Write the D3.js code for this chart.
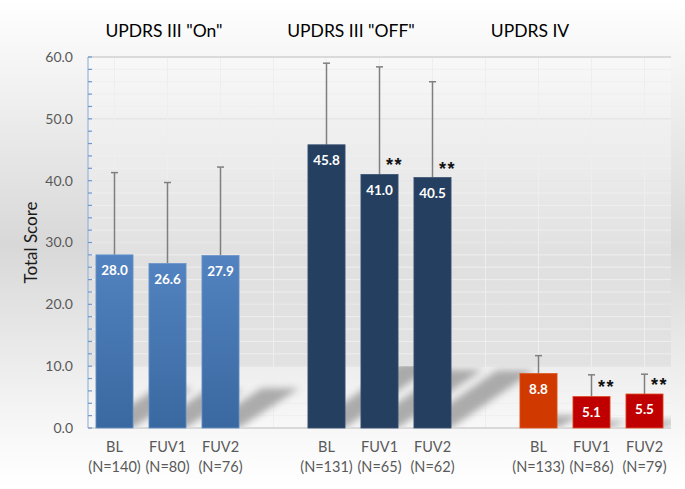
<!DOCTYPE html>
<html lang="en">
<head>
    <meta charset="UTF-8">
    <script src="https://d3js.org/d3.v7.min.js"></script>
    <title>UPDRS scores</title>
    <style>
        body { margin: 0; }
        text { font-family: Lato, "Open Sans", sans-serif; }
    </style>
</head>
<body>
<script>
    // Data
    const groups = ['UPDRS III "On"', 'UPDRS III "OFF"', 'UPDRS IV'];
    const visits = ["BL", "FUV1", "FUV2"];
    const nCounts = [[140, 80, 76], [131, 65, 62], [133, 86, 79]];
    const means = [[28.0, 26.6, 27.9], [45.8, 41.0, 40.5], [8.8, 5.1, 5.5]];
    const sds = [[13.3, 13.1, 14.3], [13.2, 17.4, 15.5], [2.9, 3.5, 3.2]];
    const signif = [["", "", ""], ["", "**", "**"], ["", "**", "**"]];
    const yTicks = [0, 10, 20, 30, 40, 50, 60];
    const yMinor = d3.range(0, 61, 2);

    const W = 685, H = 489;
    const plot = {left: 88, right: 671, top: 57, bottom: 428};
    const titleX = [164, 351, 530];

    // rows: one per bar, with gap slots between the groups
    const rows = [];
    const slots = [];
    groups.forEach((g, gi) => {
        visits.forEach((v, vi) => {
            const key = gi + "-" + vi;
            slots.push(key);
            rows.push({key, gi, vi, visit: v, n: nCounts[gi][vi], mean: means[gi][vi],
                sd: sds[gi][vi], sig: signif[gi][vi]});
        });
        if (gi < groups.length - 1) slots.push("gap" + gi);
    });

    const svg = d3.select("body").append("svg")
        .attr("width", W)
        .attr("height", H);

    const defs = svg.append("defs");
    const bgGrad = defs.append("linearGradient").attr("id", "bg")
        .attr("x1", 0).attr("y1", 0).attr("x2", 0).attr("y2", 1);
    [[0, "#ffffff"], [0.5, "#d8d8d8"], [0.9, "#f9f9f9"], [1, "#ffffff"]]
        .forEach(s => bgGrad.append("stop").attr("offset", s[0]).attr("stop-color", s[1]));

    const x = d3.scaleBand()
        .domain(slots)
        .range([plot.left, plot.right])
        .paddingInner(0.3)
        .paddingOuter(0.15);
    const y = d3.scaleLinear()
        .domain([0, 60])
        .range([plot.bottom, plot.top]);
    const cx = k => x(k) + x.bandwidth() / 2;

    const floorY = y(10);
    const floorOff = (floorY - plot.top) / (plot.bottom - plot.top);
    const plotGrad = defs.append("linearGradient").attr("id", "plotbg")
        .attr("x1", 0).attr("y1", 0).attr("x2", 0).attr("y2", 1);
    [[0, "#f8f8f8"], [0.55, "#e0e0e0"], [floorOff, "#e2e2e2"], [floorOff + 0.002, "#eeeeee"], [1, "#f8f8f8"]]
        .forEach(s => plotGrad.append("stop").attr("offset", s[0]).attr("stop-color", s[1]));

    const blueGrad = defs.append("linearGradient").attr("id", "blue")
        .attr("x1", 0).attr("y1", 0).attr("x2", 0).attr("y2", 1);
    blueGrad.append("stop").attr("offset", 0).attr("stop-color", "#5283c0");
    blueGrad.append("stop").attr("offset", 1).attr("stop-color", "#3a68a0");

    defs.append("filter").attr("id", "blur")
        .attr("x", "-50%").attr("y", "-50%").attr("width", "200%").attr("height", "200%")
        .append("feGaussianBlur").attr("stdDeviation", 3.5);
    defs.append("clipPath").attr("id", "floor")
        .append("rect")
        .attr("x", plot.left).attr("y", floorY)
        .attr("width", plot.right - plot.left).attr("height", plot.bottom - floorY);

    // Background
    svg.append("rect").attr("width", W).attr("height", H).attr("fill", "url(#bg)");
    svg.append("rect")
        .attr("x", plot.left).attr("y", plot.top)
        .attr("width", plot.right - plot.left).attr("height", plot.bottom - plot.top)
        .attr("fill", "url(#plotbg)");

    // Grid
    svg.append("g").selectAll("line")
        .data(yMinor.filter(d => d > 0 && d % 10 !== 0))
        .enter().append("line")
        .attr("x1", plot.left).attr("x2", plot.right)
        .attr("y1", d => y(d)).attr("y2", d => y(d))
        .attr("stroke", "#efefef").attr("stroke-width", 1);
    svg.append("g").selectAll("line")
        .data(yTicks.filter(d => d > 0 && d < 60))
        .enter().append("line")
        .attr("x1", plot.left).attr("x2", plot.right)
        .attr("y1", d => y(d)).attr("y2", d => y(d))
        .attr("stroke", "#e6e6e6").attr("stroke-width", 1.5);
    svg.append("g").selectAll("line")
        .data(slots)
        .enter().append("line")
        .attr("x1", d => cx(d)).attr("x2", d => cx(d))
        .attr("y1", plot.top).attr("y2", plot.bottom)
        .attr("stroke", "#eeeeee").attr("stroke-width", 1);
    svg.append("line")
        .attr("x1", plot.left).attr("x2", plot.right)
        .attr("y1", y(60)).attr("y2", y(60))
        .attr("stroke", "#dadada").attr("stroke-width", 2);

    // Floor shadows
    svg.append("g")
        .attr("clip-path", "url(#floor)")
        .selectAll("path")
        .data(rows)
        .enter().append("path")
        .attr("d", d => {
            const x0 = x(d.key), x1 = x0 + x.bandwidth(), b = y(0);
            const h = y(0) - y(d.mean);
            const dx = 0.3 * h + 8, dy = 0.23 * h;
            return "M" + x0 + "," + b + "L" + x1 + "," + b +
                "L" + (x1 + dx) + "," + (b - dy) + "L" + (x0 + dx) + "," + (b - dy) + "Z";
        })
        .attr("fill", "#8c8c8c")
        .attr("opacity", 0.7)
        .attr("filter", "url(#blur)");

    // Bottom axis line
    svg.append("line")
        .attr("x1", plot.left).attr("x2", plot.right)
        .attr("y1", y(0)).attr("y2", y(0))
        .attr("stroke", "#d9d9d9").attr("stroke-width", 2);

    // Error bars
    const err = svg.append("g").attr("stroke", "#7f7f7f").attr("stroke-width", 1.5);
    err.selectAll(".stem")
        .data(rows)
        .enter().append("line")
        .attr("x1", d => cx(d.key)).attr("x2", d => cx(d.key))
        .attr("y1", d => y(d.mean)).attr("y2", d => y(d.mean + d.sd));
    err.selectAll(".cap")
        .data(rows)
        .enter().append("line")
        .attr("x1", d => cx(d.key) - 3.5).attr("x2", d => cx(d.key) + 3.5)
        .attr("y1", d => y(d.mean + d.sd)).attr("y2", d => y(d.mean + d.sd));

    // Bars
    const fillOf = d => d.gi === 0 ? "url(#blue)" : d.gi === 1 ? "#253f60" : (d.vi === 0 ? "#d03a00" : "#c00000");
    const strokeOf = d => d.gi === 0 ? "#6a95c9" : d.gi === 1 ? "#3a5272" : (d.vi === 0 ? "#e0551c" : "#e0502a");
    svg.append("g").selectAll("rect")
        .data(rows)
        .enter().append("rect")
        .attr("x", d => x(d.key))
        .attr("y", d => y(d.mean))
        .attr("width", x.bandwidth())
        .attr("height", d => y(0) - y(d.mean))
        .attr("fill", fillOf)
        .attr("stroke", strokeOf)
        .attr("stroke-width", 0.8);

    // Value labels
    svg.append("g").selectAll("text")
        .data(rows)
        .enter().append("text")
        .attr("x", d => cx(d.key))
        .attr("y", d => y(d.mean) + 20.5)
        .attr("text-anchor", "middle")
        .attr("fill", "#ffffff")
        .attr("font-weight", "bold")
        .attr("font-size", "13.5px")
        .text(d => d.mean.toFixed(1));

    // Significance marks
    svg.append("g").selectAll("text")
        .data(rows.filter(d => d.sig))
        .enter().append("text")
        .attr("x", d => cx(d.key) + 15)
        .attr("y", d => y(d.mean) - 3)
        .attr("text-anchor", "middle")
        .attr("fill", "#111111")
        .attr("font-weight", "bold")
        .attr("font-size", "18px")
        .attr("letter-spacing", "1.5px")
        .style("font-family", "'Liberation Sans', Arial, sans-serif")
        .text(d => d.sig);

    // Left axis
    const yAxis = svg.append("g");
    yAxis.append("line")
        .attr("x1", plot.left).attr("x2", plot.left)
        .attr("y1", y(0)).attr("y2", y(60))
        .attr("stroke", "#9ab4d8").attr("stroke-width", 1.2);
    yAxis.selectAll(".tk")
        .data(yMinor)
        .enter().append("line")
        .attr("x1", plot.left).attr("x2", plot.left + 4)
        .attr("y1", d => y(d)).attr("y2", d => y(d))
        .attr("stroke", "#6f97cc").attr("stroke-width", 1.2);
    yAxis.selectAll("text")
        .data(yTicks)
        .enter().append("text")
        .attr("x", plot.left - 15)
        .attr("y", d => y(d))
        .attr("dy", "0.35em")
        .attr("text-anchor", "end")
        .attr("fill", "#595959")
        .attr("font-size", "14px")
        .text(d => d.toFixed(1));

    svg.append("text")
        .attr("transform", "translate(37," + (y(0) + y(60)) / 2 + ") rotate(-90)")
        .attr("text-anchor", "middle")
        .attr("fill", "#1a1a1a")
        .attr("font-size", "17px")
        .text("Total Score");

    // Category labels
    const xl = svg.append("g").selectAll("text")
        .data(rows)
        .enter().append("text")
        .attr("text-anchor", "middle")
        .attr("fill", "#595959")
        .attr("font-size", "14.5px");
    xl.append("tspan")
        .attr("x", d => cx(d.key)).attr("y", 452)
        .text(d => d.visit);
    xl.append("tspan")
        .attr("x", d => cx(d.key)).attr("y", 472)
        .text(d => "(N=" + d.n + ")");

    // Group titles
    svg.append("g").selectAll("text")
        .data(groups)
        .enter().append("text")
        .attr("x", (d, i) => titleX[i])
        .attr("y", 37)
        .attr("text-anchor", "middle")
        .attr("fill", "#000000")
        .attr("font-size", "17.5px")
        .text(d => d);
</script>
</body>
</html>
